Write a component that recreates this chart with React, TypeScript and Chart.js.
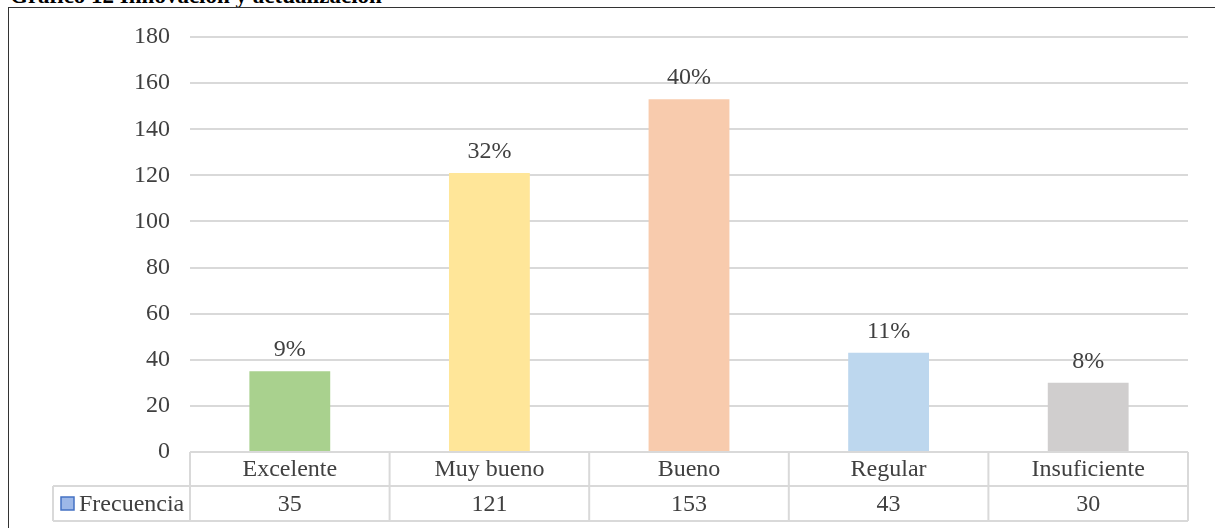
import React, { useEffect, useRef } from "react";
import { Chart, registerables } from "chart.js";

Chart.register(...registerables);

const categories = ["Excelente", "Muy bueno", "Bueno", "Regular", "Insuficiente"];
const frecuencia = [35, 121, 153, 43, 30];
const percentLabels = ["9%", "32%", "40%", "11%", "8%"];
const barColors = ["#a9d18e", "#ffe699", "#f8cbad", "#bdd7ee", "#d0cece"];
const seriesName = "Frecuencia";
const titleText = "Gráfico 12 Innovación y actualización";

const FONT = '"Liberation Serif", "Times New Roman", serif';
const TEXT = "#404040";
const LINE = "#d9d9d9";

const tablePlugin = {
  id: "dataTable",
  afterDraw(chart: any) {
    const ctx = chart.ctx;
    const area = chart.chartArea;
    const n = categories.length;
    const left = area.left;
    const right = area.right;
    const colW = (right - left) / n;
    const y0 = area.bottom;
    const y1 = y0 + 34;
    const y2 = y1 + 35;
    const legendLeft = 53;
    ctx.save();
    ctx.strokeStyle = LINE;
    ctx.lineWidth = 2;
    const line = (a: number, b: number, c: number, d: number) => {
      ctx.beginPath();
      ctx.moveTo(a, b);
      ctx.lineTo(c, d);
      ctx.stroke();
    };
    line(left, y0, right, y0);
    line(legendLeft, y1, right, y1);
    line(legendLeft, y2, right, y2);
    for (let i = 0; i <= n; i++) {
      const xi = left + i * colW;
      line(xi, y0, xi, y2);
    }
    line(legendLeft, y1, legendLeft, y2);

    ctx.fillStyle = TEXT;
    ctx.font = `24px ${FONT}`;
    ctx.textAlign = "center";
    ctx.textBaseline = "middle";
    for (let i = 0; i < n; i++) {
      const cx = left + (i + 0.5) * colW;
      ctx.fillText(categories[i], cx, (y0 + y1) / 2 + 1);
      ctx.fillText(String(frecuencia[i]), cx, (y1 + y2) / 2 + 1);
    }
    // legend marker
    ctx.fillStyle = "#9db8e8";
    ctx.fillRect(61, 497, 13, 13);
    ctx.strokeStyle = "#4472c4";
    ctx.lineWidth = 1.5;
    ctx.strokeRect(61, 497, 13, 13);
    ctx.fillStyle = TEXT;
    ctx.textAlign = "left";
    ctx.fillText(seriesName, 79, (y1 + y2) / 2 + 1);

    // percent labels above bars
    const meta = chart.getDatasetMeta(0);
    ctx.textAlign = "center";
    ctx.textBaseline = "alphabetic";
    meta.data.forEach((bar: any, i: number) => {
      ctx.fillText(percentLabels[i], bar.x, bar.y - 15);
    });
    ctx.restore();
  },
};

export default function App() {
  const ref = useRef<HTMLCanvasElement>(null);
  useEffect(() => {
    if (!ref.current) return;
    const chart = new Chart(ref.current, {
      type: "bar",
      data: {
        labels: categories,
        datasets: [
          {
            label: seriesName,
            data: frecuencia,
            backgroundColor: barColors,
            barPercentage: 0.405,
            categoryPercentage: 1,
          },
        ],
      },
      options: {
        responsive: false,
        animation: false,
        layout: { padding: { top: 37, right: 27, bottom: 76, left: 0 } },
        plugins: {
          legend: { display: false },
          tooltip: { enabled: false },
          title: { display: false },
        },
        scales: {
          x: {
            display: false,
          },
          y: {
            min: 0,
            max: 180,
            ticks: {
              stepSize: 20,
              padding: 20,
              color: TEXT,
              font: { family: FONT, size: 24 },
            },
            grid: { color: LINE, lineWidth: 2, drawTicks: false },
            border: { display: false },
            afterFit(scale: any) {
              scale.width = 190;
            },
          },
        },
      },
      plugins: [tablePlugin],
    });
    return () => chart.destroy();
  }, []);

  return (
    <div
      style={{
        position: "fixed",
        left: 0,
        top: 0,
        width: 1215,
        height: 528,
        background: "#fff",
        overflow: "hidden",
      }}
    >
      <div
        style={{
          position: "absolute",
          left: 10,
          top: -15,
          fontFamily: FONT,
          fontWeight: "bold",
          fontSize: 23,
          lineHeight: "22px",
          color: "#000",
          whiteSpace: "nowrap",
        }}
      >
        {titleText}
      </div>
      <div
        style={{
          position: "absolute",
          left: 8,
          top: 7,
          width: 1220,
          height: 530,
          borderLeft: "1px solid #333",
          borderTop: "1px solid #333",
        }}
      />
      <canvas
        ref={ref}
        width={1215}
        height={528}
        style={{ position: "absolute", left: 0, top: 0 }}
      />
    </div>
  );
}
